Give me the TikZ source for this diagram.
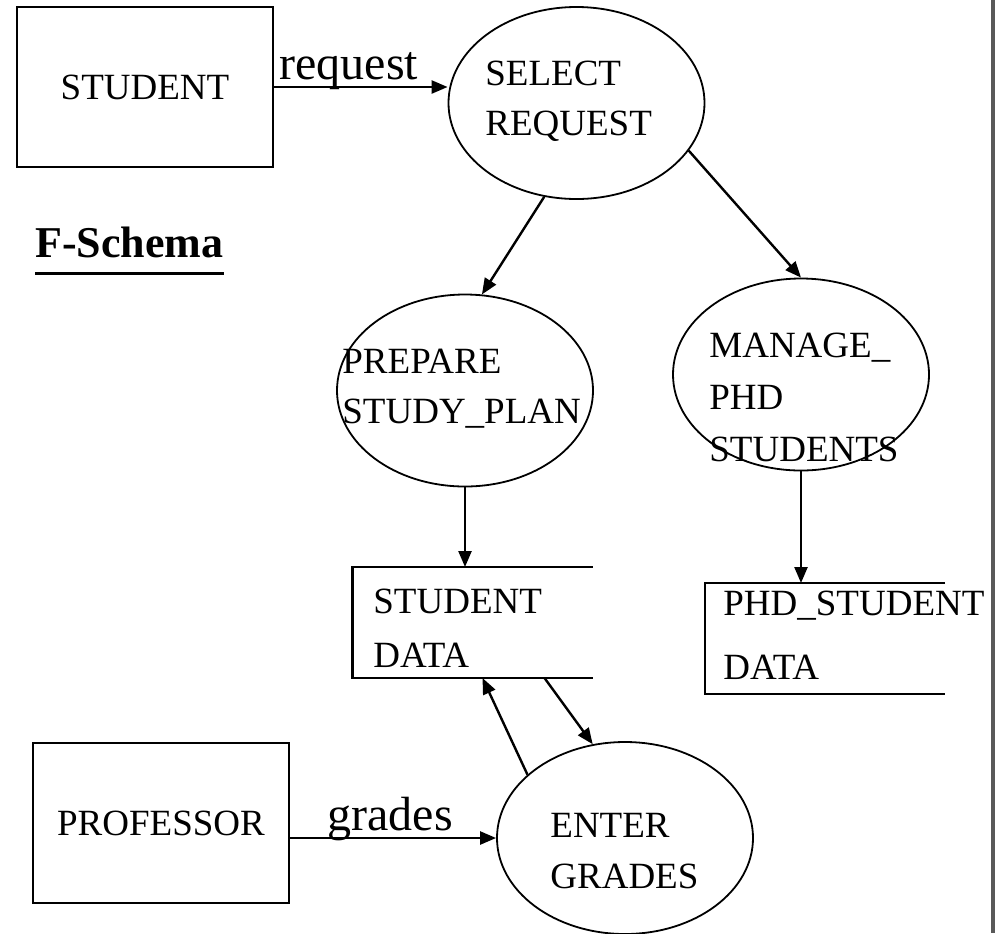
\documentclass[tikz,border=0pt]{standalone}
\usepackage{fontspec}
\setmainfont{Liberation Serif}
\usetikzlibrary{shapes.geometric,arrows.meta}

\begin{document}
\begin{tikzpicture}[x=0.5pt, y=-0.5pt,
  extern/.style={draw, line width=1.2pt, minimum width=128pt, minimum height=80pt, inner sep=0pt, font=\fontsize{18.5}{25}\selectfont},
  proc/.style={draw, ellipse, line width=0.9pt, minimum width=128pt, minimum height=96pt, inner sep=0pt},
  store/.style={minimum width=120pt, minimum height=55.5pt, inner sep=0pt, outer sep=0pt},
  storeline/.style={line width=1.1pt},
  txt/.style={anchor=north west, align=left, inner sep=0pt},
  flow/.style={line width=1.2pt, -{Triangle[length=8pt,width=6.5pt]}},
  lbl/.style={inner sep=0pt, anchor=base west, font=\fontsize{24}{28}\selectfont}]
\useasboundingbox (0,0) rectangle (996,933);

% external entities
\node[extern] (stu) at (145,87) {STUDENT};
\node[extern] (prof) at (161,823) {PROFESSOR};

% processes
\node[proc] (sel) at (576.5,103) {};
\node[proc] (pre) at (465,390.5) {};
\node[proc] (man) at (801,374.5) {};
\node[proc] (ent) at (625,838) {};
\node[txt, font=\fontsize{18.5}{25}\selectfont] (selT) at (485,61) {SELECT\\REQUEST};
\node[txt, font=\fontsize{18.5}{25}\selectfont] (preT) at (342,349) {PREPARE\\STUDY\_PLAN};
\node[txt, font=\fontsize{18.5}{26}\selectfont] (manT) at (709,333) {MANAGE\_\\PHD\\STUDENTS};
\node[txt, font=\fontsize{18.5}{25.5}\selectfont] (entT) at (550,813) {ENTER\\GRADES};

% data stores
\node[store] (sdata) at (472.5,622.5) {};
\node[store] (phd) at (825,638.5) {};
\draw[storeline] (sdata.north east) -- (sdata.north west) -- (sdata.south west) -- (sdata.south east);
\draw[storeline] (phd.north east) -- (phd.north west) -- (phd.south west) -- (phd.south east);
\node[txt, font=\fontsize{18.5}{27}\selectfont] (sdataT) at (373,589) {STUDENT\\DATA};
\node[txt, font=\fontsize{18.5}{32}\selectfont] (phdT) at (723,591) {PHD\_STUDENT\\DATA};

% title
\node[anchor=base west, inner sep=0pt, font=\bfseries\fontsize{22}{26}\selectfont] (fs) at (35,257) {F-Schema};
\draw[line width=1.5pt] ([yshift=-8pt]fs.base west) -- ([yshift=-8pt]fs.base east);

% flows
\draw[flow] (stu.east) -- (stu.east -| sel.west)
  node[lbl, pos=0, xshift=2pt, yshift=4pt] (req) {request};
\draw[flow] (sel.251.8) -- (pre.80);
\draw[flow] (sel.337.5) -- (man.north);
\draw[flow] (pre.south) -- (pre.south |- sdata.north);
\draw[flow] (man.south) -- (man.south |- phd.north);
\draw[flow] (ent.147) -- ([xshift=5pt]sdata.south);
\draw[flow] ([xshift=36pt]sdata.south) -- (ent.109);
\draw[flow] (ent.west -| prof.east) -- (ent.west)
  node[lbl, pos=0, xshift=18pt, yshift=4pt] (grd) {grades};

% page edge
\draw[black!65, line width=2pt] (993,0) -- (993,933);
\end{tikzpicture}
\end{document}
